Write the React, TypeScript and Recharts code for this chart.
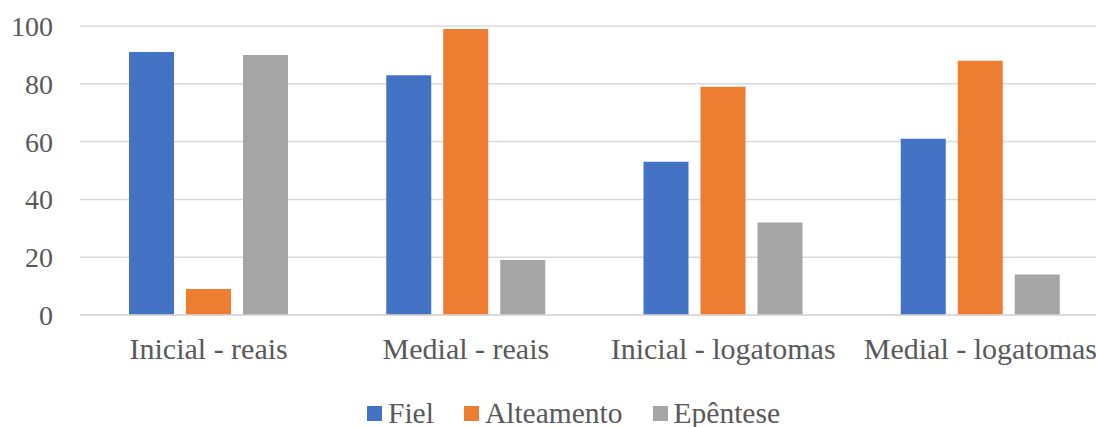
import React from "react";
import {
  BarChart,
  Bar,
  XAxis,
  YAxis,
  CartesianGrid,
  Legend,
} from "recharts";

const CATEGORIES = [
  "Inicial - reais",
  "Medial - reais",
  "Inicial - logatomas",
  "Medial - logatomas",
];
const FIEL = [91, 83, 53, 61];
const ALTEAMENTO = [9, 99, 79, 88];
const EPENTESE = [90, 19, 32, 14];
const Y_TICKS = [0, 20, 40, 60, 80, 100];

const SERIES = [
  { key: "fiel", name: "Fiel", color: "#4472C4" },
  { key: "alteamento", name: "Alteamento", color: "#ED7D31" },
  { key: "epentese", name: "Epêntese", color: "#A5A5A5" },
];

const data = CATEGORIES.map((cat, i) => ({
  cat,
  fiel: FIEL[i],
  alteamento: ALTEAMENTO[i],
  epentese: EPENTESE[i],
}));

const FONT = '"Liberation Serif", "Times New Roman", serif';
const TEXT = "#595959";

function LegendContent() {
  return (
    <div
      style={{
        display: "flex",
        alignItems: "center",
        height: 28,
        marginLeft: 367,
        fontFamily: FONT,
        fontSize: 29.5,
        color: TEXT,
      }}
    >
      {SERIES.map((s) => (
        <div
          key={s.key}
          style={{ display: "flex", alignItems: "center", marginRight: 30 }}
        >
          <span
            style={{
              display: "inline-block",
              width: 15,
              height: 15,
              background: s.color,
              marginRight: 6,
            }}
          />
          <span>{s.name}</span>
        </div>
      ))}
    </div>
  );
}

export default function App() {
  return (
    <div
      style={{
        position: "absolute",
        left: 0,
        top: 0,
        width: 1096,
        height: 427,
        overflow: "hidden",
        background: "#fff",
      }}
    >
      <BarChart
        width={1109}
        height={427}
        data={data}
        margin={{ top: 26, right: 0, bottom: 0, left: 0 }}
        barSize={45}
        barGap={12}
      >
        <CartesianGrid
          vertical={false}
          stroke="#D9D9D9"
          strokeWidth={1.5}
        />
        <XAxis
          dataKey="cat"
          height={84}
          axisLine={{ stroke: "#D9D9D9", strokeWidth: 1.5 }}
          tickLine={false}
          tickSize={0}
          tickMargin={23}
          interval={0}
          tick={{ fill: TEXT, fontSize: 30, fontFamily: FONT }}
        />
        <YAxis
          width={80}
          domain={[0, 100]}
          ticks={Y_TICKS}
          axisLine={false}
          tickLine={false}
          tickSize={0}
          tickMargin={27}
          tick={{ fill: TEXT, fontSize: 28, fontFamily: FONT }}
        />
        <Legend
          verticalAlign="bottom"
          height={28}
          content={() => <LegendContent />}
        />
        {SERIES.map((s) => (
          <Bar
            key={s.key}
            dataKey={s.key}
            name={s.name}
            fill={s.color}
            isAnimationActive={false}
          />
        ))}
      </BarChart>
    </div>
  );
}
